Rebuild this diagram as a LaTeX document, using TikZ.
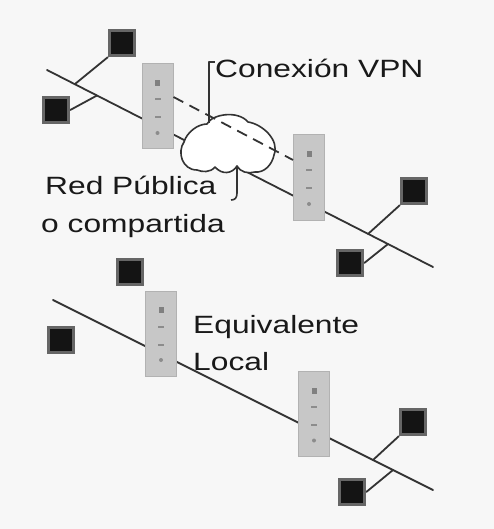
\documentclass[tikz,border=0pt]{standalone}
\usepackage{fontspec}
\setmainfont{Liberation Sans}[FakeStretch=1.27]
\usetikzlibrary{calc,backgrounds}
\begin{document}
\begin{tikzpicture}[x=1pt,y=-1pt,
  wire/.style={draw=black!80, line width=1.8pt, line cap=round},
  tunnel/.style={draw=black!80, line width=1.8pt, dash pattern=on 11pt off 7pt},
  callout/.style={draw=black!80, line width=1.6pt, line join=round},
  host/.style={rectangle, minimum size=25pt, inner sep=0pt,
    fill=black!92, draw=black!60, line width=3.5pt},
  devbox/.style={rectangle, minimum width=31pt, minimum height=85pt, inner sep=0pt,
    fill=black!22, draw=black!30, line width=1pt,
    path picture={
      \fill[black!50] ($(path picture bounding box.north)+(-2.5pt,-16pt)$) rectangle ++(5pt,-6pt);
      \fill[black!45] ($(path picture bounding box.center)+(-3pt,8pt)$) rectangle ++(6pt,-2pt);
      \fill[black!45] ($(path picture bounding box.center)+(-3pt,-10pt)$) rectangle ++(6pt,-2pt);
      \fill[black!45] ($(path picture bounding box.south)+(0pt,16pt)$) circle (2pt);
    }},
  lbl/.style={inner sep=0pt, text=black!90, font=\fontsize{25}{30}\selectfont},
]
\useasboundingbox (0,0) rectangle (494,529);

% hosts
\node[host] (hA) at (122,43) {};
\node[host] (hB) at (56,110) {};
\node[host] (hC) at (414,191) {};
\node[host] (hD) at (350,263) {};
\node[host] (hE) at (130,272) {};
\node[host] (hF) at (61,340) {};
\node[host] (hG) at (413,422) {};
\node[host] (hH) at (352,492) {};

% bus lines
\coordinate (b1s) at (47,70);  \coordinate (b1e) at (433,267);
\coordinate (b2s) at (53,300); \coordinate (b2e) at (433,490);

% taps on the buses
\coordinate (tA) at (75,84);
\coordinate (tB) at (97,95.5);
\coordinate (tC) at (368,234);
\coordinate (tD) at (388,244);
\coordinate (tG) at (373,460);
\coordinate (tH) at (393,470);

\begin{scope}[on background layer]
  \fill[black!3] (0,0) rectangle (494,529);
  \draw[wire] (b1s) -- (b1e);
  \draw[wire] (b2s) -- (b2e);
  \draw[wire] (hA.south west) -- (tA);
  \draw[wire] (hB.east) -- (tB);
  \draw[wire] (hC.south west) -- (tC);
  \draw[wire] (hD.east) -- (tD);
  \draw[wire] (hG.south west) -- (tG);
  \draw[wire] (hH.east) -- (tH);
\end{scope}

% edge devices
\node[devbox] (r1) at (157.5,106.5) {};
\node[devbox] (r2) at (309,177.5) {};
\node[devbox] (r3) at (161,333.5) {};
\node[devbox] (r4) at (314,414) {};

% public network cloud
\draw[draw=black!80, line width=1.6pt, fill=white, line join=round]
  (197,170) .. controls (182,170) and (177,152) .. (184,142)
  .. controls (187,132) and (198,124) .. (207,124)
  .. controls (212,114) and (238,110) .. (248,122)
  .. controls (262,124) and (280,140) .. (274,155)
  .. controls (272,165) and (264,173) .. (255,172)
  .. controls (248,174) and (240,172) .. (237,166)
  .. controls (232,174) and (222,175) .. (215,167)
  .. controls (210,173) and (202,172) .. (197,170) -- cycle;

% tunnel between the two sites
\draw[tunnel] ([yshift=9.5pt]r1.east) -- ([yshift=17.5pt]r2.west);

% labels
\node[lbl, anchor=base west] (vpn) at (215,78) {Conexión VPN};
\node[lbl, anchor=base west] (red1) at (45,195) {Red Pública};
\node[lbl, anchor=base west] (red2) at (41,232) {o compartida};
\node[lbl, anchor=base west] (eq1) at (193,333) {Equivalente};
\node[lbl, anchor=base west] (eq2) at (193,370) {Local};

% callouts
\coordinate (vpnfoot) at (209,123);
\draw[callout] (vpnfoot) |- ([yshift=16pt]vpn.base west);
\coordinate (pubfoot) at (237,166);
\coordinate (pubend) at (231,200);
\draw[callout] (pubfoot) -- (237,193) .. controls (237,198) and (235,200) .. (pubend);
\end{tikzpicture}
\end{document}
